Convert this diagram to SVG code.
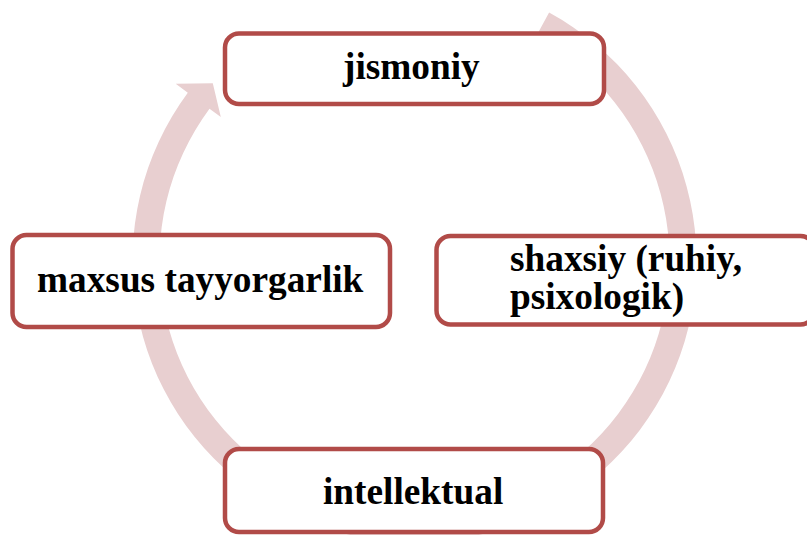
<svg xmlns="http://www.w3.org/2000/svg" width="807" height="535" viewBox="0 0 807 535">
<style>
.box{fill:#ffffff;stroke:#b14b48;stroke-width:4.5}
.lbl{font-family:"Liberation Serif","Times New Roman",serif;font-weight:bold;font-size:37.3px;fill:#000000}
.ring{fill:#e8cfd0;stroke:none}
</style>
<rect width="807" height="535" fill="#ffffff"/>
<g id="connectors">
<path class="ring" d="M549.1,12.6 A282,282 0 1 1 187.8,92.7 L175.7,83.7 L212.8,83.2 L220.8,117.1 L209.5,108.7 A255,255 0 1 0 536.2,36.3 Z"/>
</g>
<g id="node-jismoniy">
<rect class="box" x="225" y="33.5" width="379" height="70.5" rx="14"/>
<text class="lbl" x="343" y="79">jismoniy</text>
</g>
<g id="node-shaxsiy">
<rect class="box" x="436.5" y="236" width="378" height="88.5" rx="14"/>
<text class="lbl" x="510" y="271">shaxsiy (ruhiy,</text>
<text class="lbl" x="510" y="309">psixologik)</text>
</g>
<g id="node-maxsus">
<rect class="box" x="12.5" y="235" width="377.5" height="92" rx="14"/>
<text class="lbl" x="37" y="292">maxsus tayyorgarlik</text>
</g>
<g id="node-intellektual">
<rect class="box" x="225" y="449" width="378" height="83" rx="14"/>
<text class="lbl" x="323" y="504">intellektual</text>
</g>
</svg>
